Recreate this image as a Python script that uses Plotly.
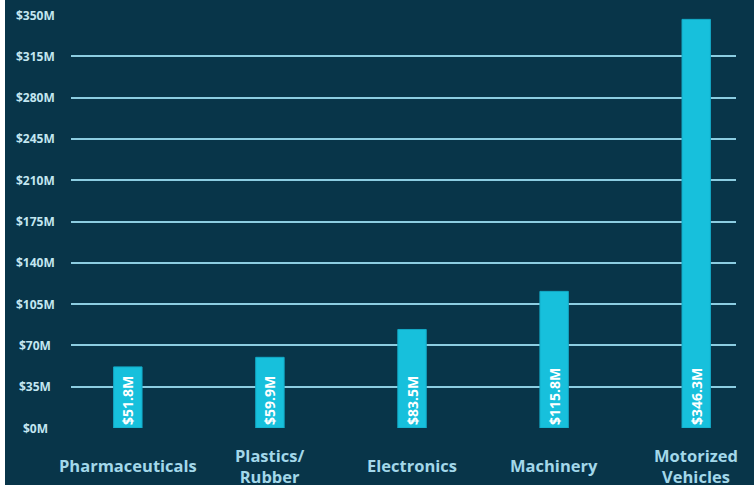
import plotly.graph_objects as go

categories = ["Pharmaceuticals", "Plastics/<br>Rubber", "Electronics", "Machinery", "Motorized<br>Vehicles"]
values = [51.8, 59.9, 83.5, 115.8, 346.3]
value_labels = ["$51.8M", "$59.9M", "$83.5M", "$115.8M", "$346.3M"]
tick_vals = [0, 35, 70, 105, 140, 175, 210, 245, 280, 315, 350]
tick_text = ["$0M", "$35M", "$70M", "$105M", "$140M", "$175M", "$210M", "$245M", "$280M", "$315M", "$350M"]

BG = "#083549"
BAR = "#17c0dc"
GRID = "#8ccde1"
TICK = "#c3e6f0"
CAT = "#a3d8ea"
FONT = "Open Sans, Lato, sans-serif"

x_idx = list(range(len(categories)))

fig = go.Figure()
fig.add_trace(go.Bar(
    x=x_idx, y=values,
    marker=dict(color=BAR, line=dict(color="#13a9c6", width=1)),
    width=0.2,
    text=value_labels,
    textposition="inside",
    insidetextanchor="start",
    textangle=-90,
    constraintext="none",
    textfont=dict(family=FONT, size=14, color="white", weight="bold"),
    hoverinfo="skip",
))

L, R, T, B = 71, 18, 15, 57
W, H = 754, 485
pw = W - L - R
ph = H - T - B

annotations = []
for i, c in enumerate(categories):
    annotations.append(dict(
        x=i, xref="x", y=-0.092, yref="paper", text="<b>" + c.replace("<br>", "</b><br><b>") + "</b>",
        showarrow=False, xanchor="center", yanchor="middle", align="center",
        font=dict(family=FONT, size=16.5, color=CAT),
    ))
for v, t in zip(tick_vals, tick_text):
    annotations.append(dict(
        x=(35 - L) / pw, xref="paper", y=v, yref="y", text="<b>" + t + "</b>",
        showarrow=False, xanchor="center", yanchor="middle",
        font=dict(family=FONT, size=12, color=TICK),
    ))

fig.update_layout(
    width=W, height=H,
    margin=dict(l=L, r=R, t=T, b=B),
    paper_bgcolor=BG, plot_bgcolor=BG,
    showlegend=False,
    xaxis=dict(range=[-0.40, 4.28], showticklabels=False, showgrid=False, zeroline=False,
               ticks="", fixedrange=True),
    yaxis=dict(range=[0, 350], tickvals=tick_vals, showticklabels=False,
               showgrid=True, gridcolor=GRID, gridwidth=2, zeroline=False,
               ticks="", fixedrange=True),
    annotations=annotations,
    shapes=[dict(type="rect", xref="paper", yref="paper",
                 x0=(0 - L) / pw - 0.01, x1=(5 - L) / pw,
                 y0=(ph - H + T) / ph - 0.01, y1=(ph + T) / ph + 0.01,
                 fillcolor="white", line=dict(width=0), layer="above")],
)

fig.write_html("out.html", config={"displayModeBar": False},
               post_script="document.body.style.margin='0';document.body.style.overflow='hidden';")
